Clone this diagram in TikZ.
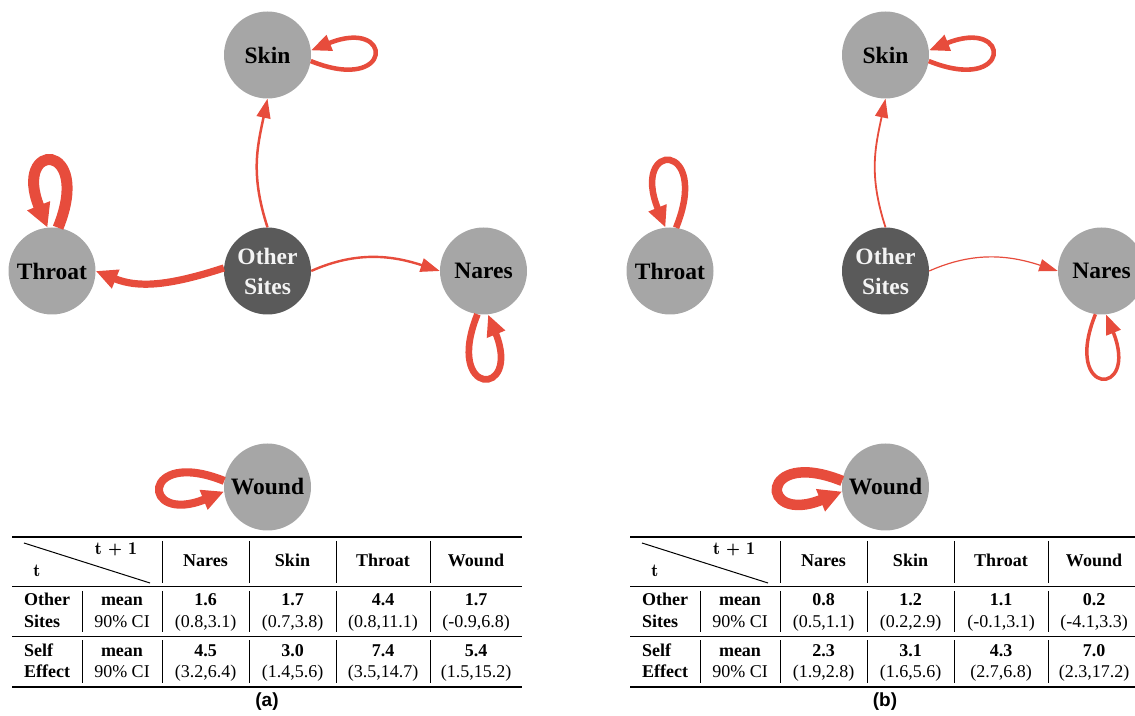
\documentclass[tikz,border=0pt]{standalone}
\usepackage{fontspec}
\setmainfont{Liberation Serif}
\newfontfamily\capfont{Liberation Sans}
\newcommand\lmtext{\fontfamily{lmr}\fontseries{b}\selectfont}
\usetikzlibrary{arrows.meta}

\definecolor{sitegray}{HTML}{A6A6A6}
\definecolor{hubgray}{HTML}{5A5A5A}
\definecolor{hubtext}{HTML}{F4F4F4}
\definecolor{edgered}{HTML}{E74C3C}

\tikzset{
  site/.style={circle, fill=sitegray, minimum size=87pt, inner sep=0pt,
    font=\fontsize{23.5}{30}\selectfont\bfseries},
  hub/.style={site, fill=hubgray, text=hubtext, align=center},
  flow/.style={draw=edgered, line width=#1,
    -{Triangle[length=18pt 0.5, width=11pt 1.1]}},
  cell/.style={inner sep=0pt, text height=12pt, text depth=0pt,
    font=\fontsize{18}{21}\selectfont},
  bcell/.style={cell, font=\fontsize{18}{21}\selectfont\bfseries},
  majorrule/.style={line width=1.6pt},
  minorrule/.style={line width=1pt},
}

% self-transition loops on each side of a site: #1 node, #2 line width
\newcommand\loopright[2]{\draw[flow=#2] (#1.-8) .. controls +(-22:90) and +(22:90) .. (#1.6);}
\newcommand\loopleft[2]{\draw[flow=#2] (#1.172) .. controls +(158:90) and +(202:90) .. (#1.186);}
\newcommand\loopup[2]{\draw[flow=#2] (#1.82) .. controls +(68:94) and +(112:94) .. (#1.96);}
\newcommand\loopdown[2]{\draw[flow=#2] (#1.-98) .. controls +(-112:90) and +(-68:90) .. (#1.-84);}

% effect table: #1 name suffix, #2 horizontal offset, #3 caption,
% #4 columns as name/centre/other mean/other CI/self mean/self CI
\newcommand\effecttable[4]{%
  \begin{scope}[xshift=#2]
    \draw[majorrule] (12,178) -- (522,178);
    \draw[minorrule] (12,128) -- (522,128);
    \draw[minorrule] (12,79) -- (522,79);
    \draw[majorrule] (12,28) -- (522,28);
    \draw[minorrule] (24,172) -- (150,132);
    \node[cell] (tnext#1) at (116,166) {\lmtext t + 1};
    \node[cell] (tnow#1) at (37,144) {\lmtext t};
    \foreach \x in {162,249,336,430} {
      \draw[minorrule] (\x,174) -- (\x,132);
      \draw[minorrule] (\x,124) -- (\x,83);
      \draw[minorrule] (\x,75) -- (\x,32);
    }
    \draw[minorrule] (82,124) -- (82,83);
    \draw[minorrule] (82,75) -- (82,32);
    \node[bcell, anchor=west] (othA#1) at (24,115) {Other};
    \node[bcell, anchor=west] (othB#1) at (24,94) {Sites};
    \node[bcell, anchor=west] (selfA#1) at (24,65) {Self};
    \node[bcell, anchor=west] (selfB#1) at (24,44) {Effect};
    \node[bcell] (omean#1) at (122,115) {mean};
    \node[cell] (oci#1) at (122,94) {90\% CI};
    \node[bcell] (smean#1) at (122,65) {mean};
    \node[cell] (sci#1) at (122,44) {90\% CI};
    \foreach \nm/\xc/\om/\oc/\sm/\sc [count=\k] in {#4} {
      \node[bcell] (head#1\k) at (\xc,154) {\nm};
      \node[bcell] (om#1\k) at (\xc,115) {\om};
      \node[cell] (oc#1\k) at (\xc,94) {\oc};
      \node[bcell] (sm#1\k) at (\xc,65) {\sm};
      \node[cell] (sc#1\k) at (\xc,44) {\sc};
    }
    \node[font=\capfont\bfseries\fontsize{19}{22}\selectfont] (cap#1) at (267,13) {#3};
  \end{scope}}

\begin{document}
\begin{tikzpicture}[x=1pt, y=1pt]
\useasboundingbox (0,0) rectangle (1135,715);
\clip (0,0) rectangle (1135,715);

% ---- panel (a)
\node[site] (skinA) at (267.5,660) {Skin};
\node[site] (throatA) at (52,444) {Throat};
\node[hub] (hubA) at (267.5,444) {Other\\Sites};
\node[site] (naresA) at (483.5,444) {Nares};
\node[site] (woundA) at (267.5,228) {Wound};
\draw[flow=2.5pt] (hubA.90) .. controls +(108:55) and +(258:50) .. (skinA.270);
\draw[flow=2.4pt] (hubA.0) .. controls +(24:50) and +(162:50) .. (naresA.180);
\draw[flow=7.2pt] (hubA.176) .. controls +(198:60) and +(-22:45) .. (throatA.0);
\loopright{skinA}{4.5pt}
\loopup{throatA}{11pt}
\loopdown{naresA}{6.7pt}
\loopleft{woundA}{8.1pt}
\effecttable{A}{0pt}{(a)}{Nares/205.5/1.6/{(0.8,3.1)}/4.5/{(3.2,6.4)},
  Skin/292.5/1.7/{(0.7,3.8)}/3.0/{(1.4,5.6)},
  Throat/383/4.4/{(0.8,11.1)}/7.4/{(3.5,14.7)},
  Wound/476/1.7/{(-0.9,6.8)}/5.4/{(1.5,15.2)}}

% ---- panel (b)
\node[site] (skinB) at (885.5,660) {Skin};
\node[site] (throatB) at (670,444) {Throat};
\node[hub] (hubB) at (885.5,444) {Other\\Sites};
\node[site] (naresB) at (1101.5,444) {Nares};
\node[site] (woundB) at (885.5,228) {Wound};
\draw[flow=1.8pt] (hubB.90) .. controls +(108:55) and +(258:50) .. (skinB.270);
\draw[flow=1.2pt] (hubB.0) .. controls +(24:50) and +(162:50) .. (naresB.180);
\loopright{skinB}{4.6pt}
\loopup{throatB}{6.5pt}
\loopdown{naresB}{3.5pt}
\loopleft{woundB}{10.5pt}
\effecttable{B}{618pt}{(b)}{Nares/205.5/0.8/{(0.5,1.1)}/2.3/{(1.9,2.8)},
  Skin/292.5/1.2/{(0.2,2.9)}/3.1/{(1.6,5.6)},
  Throat/383/1.1/{(-0.1,3.1)}/4.3/{(2.7,6.8)},
  Wound/476/0.2/{(-4.1,3.3)}/7.0/{(2.3,17.2)}}
\end{tikzpicture}
\end{document}
